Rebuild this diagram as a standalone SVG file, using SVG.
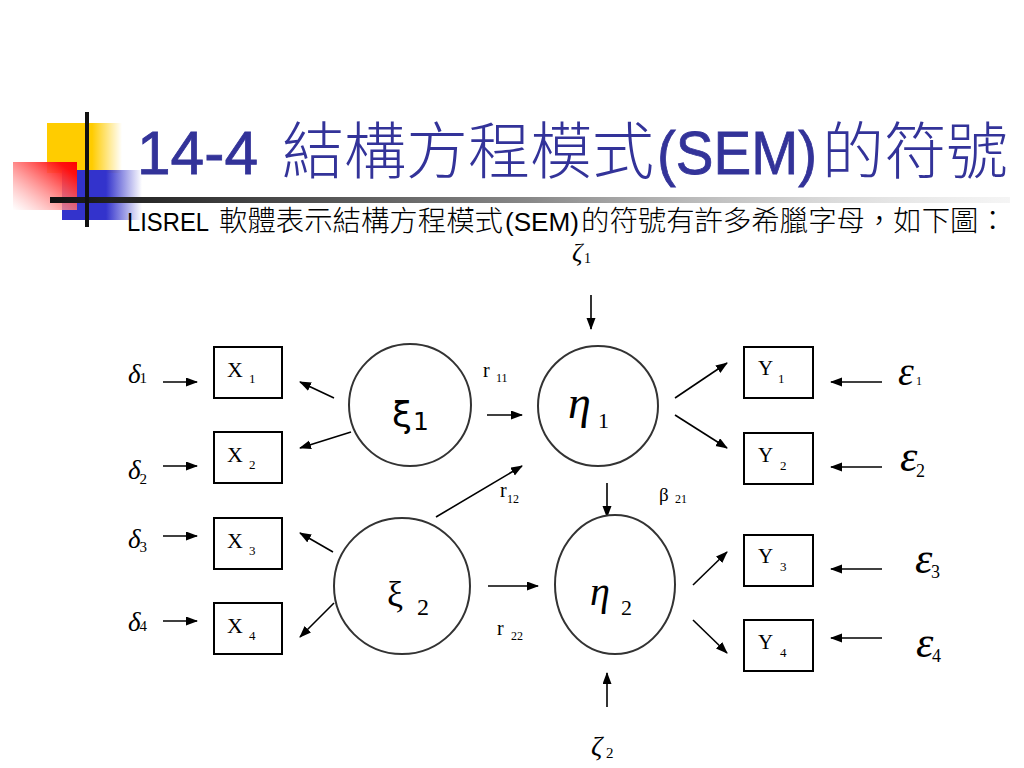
<svg xmlns="http://www.w3.org/2000/svg" width="1024" height="768" viewBox="0 0 1024 768">
<defs>
<linearGradient id="gy" x1="0" y1="0" x2="1" y2="0"><stop offset="0" stop-color="#FFCC00"/><stop offset="0.6" stop-color="#FFCC00"/><stop offset="1" stop-color="#FFCC00" stop-opacity="0"/></linearGradient>
<linearGradient id="gb" x1="0" y1="0" x2="1" y2="0"><stop offset="0" stop-color="#3333CC"/><stop offset="0.55" stop-color="#3333CC"/><stop offset="1" stop-color="#3333CC" stop-opacity="0"/></linearGradient>
<linearGradient id="gr" x1="0" y1="1" x2="1" y2="0"><stop offset="0" stop-color="#FFFFFF" stop-opacity="0.6"/><stop offset="0.85" stop-color="#FF1010"/><stop offset="1" stop-color="#FF0000"/></linearGradient>
<linearGradient id="gl" x1="0" y1="0" x2="1" y2="0"><stop offset="0" stop-color="#111111"/><stop offset="0.5" stop-color="#888888"/><stop offset="1" stop-color="#DDDDDD" stop-opacity="0.3"/></linearGradient>
<marker id="ah" markerWidth="12" markerHeight="10" refX="11" refY="4.5" orient="auto" markerUnits="userSpaceOnUse"><path d="M0,0 L12,4.5 L0,9 Z" fill="#000"/></marker>
</defs>
<style>
.ttl{font-family:"Liberation Sans","Noto Sans CJK TC",sans-serif;fill:#333399;font-size:62px}
.tl{stroke:#333399;stroke-width:0.8}
.sub{font-family:"Liberation Sans","Noto Sans CJK TC",sans-serif;fill:#000;font-size:26px}
.cj{font-family:"Noto Sans CJK TC",sans-serif;font-weight:300;stroke:none}
.box{fill:#fff;stroke:#000;stroke-width:2}
.lat{fill:#fff;stroke:#333;stroke-width:2}
.lb{font-family:"Liberation Serif",serif;fill:#000}
.it{font-style:italic}
.sb{font-size:13px}
#connectors line{stroke:#000;stroke-width:1.6;marker-end:url(#ah)}
</style>
<rect width="1024" height="768" fill="#fff"/>
<g id="decoration">
<rect x="47" y="123" width="75" height="50" fill="url(#gy)"/>
<rect x="62" y="170" width="80" height="50" fill="url(#gb)"/>
<rect x="13" y="162" width="64" height="48" fill="url(#gr)"/>
<rect x="50" y="197" width="960" height="6" fill="url(#gl)"/>
<rect x="85" y="112" width="4" height="115" fill="#111"/>
</g>
<g id="title">
<text class="ttl" y="174"><tspan class="tl" x="137" textLength="121" lengthAdjust="spacingAndGlyphs">14-4</tspan><tspan class="cj" x="282">結構方程模式</tspan><tspan class="tl" x="657" textLength="160" lengthAdjust="spacingAndGlyphs">(SEM)</tspan><tspan class="cj" x="822">的符號</tspan></text>
<text class="sub" y="231"><tspan x="127" textLength="82" lengthAdjust="spacingAndGlyphs">LISREL</tspan><tspan class="cj" x="219" font-size="28.4">軟體表示結構方程模式</tspan><tspan x="505" textLength="74" lengthAdjust="spacingAndGlyphs">(SEM)</tspan><tspan class="cj" x="581" font-size="28.4">的符號有許多希臘字母，如下圖：</tspan></text>
</g>
<g id="connectors">
<line x1="163" y1="382" x2="197" y2="382"/>
<line x1="163" y1="466" x2="197" y2="466"/>
<line x1="163" y1="536" x2="197" y2="536"/>
<line x1="163" y1="621" x2="197" y2="621"/>
<line x1="334" y1="398" x2="300" y2="382"/>
<line x1="351" y1="432" x2="300" y2="448"/>
<line x1="333" y1="552" x2="300" y2="533"/>
<line x1="334" y1="603" x2="300" y2="637"/>
<line x1="487" y1="415" x2="522" y2="415"/>
<line x1="436" y1="517" x2="522" y2="466"/>
<line x1="488" y1="586" x2="538" y2="586"/>
<line x1="591" y1="295" x2="591" y2="329"/>
<line x1="607" y1="483" x2="607" y2="517"/>
<line x1="607" y1="707" x2="607" y2="673"/>
<line x1="675" y1="398" x2="727" y2="363"/>
<line x1="675" y1="415" x2="727" y2="448"/>
<line x1="693" y1="585" x2="727" y2="552"/>
<line x1="693" y1="620" x2="727" y2="653"/>
<line x1="882" y1="382" x2="831" y2="382"/>
<line x1="882" y1="467" x2="831" y2="467"/>
<line x1="882" y1="569" x2="831" y2="569"/>
<line x1="882" y1="638" x2="831" y2="638"/>
</g>
<g id="delta1"><text class="lb" x="128" y="383" font-size="27"><tspan class="it">δ</tspan><tspan font-size="15" dx="-1">1</tspan></text></g>
<g id="delta2"><text class="lb" x="128" y="479" font-size="27"><tspan class="it">δ</tspan><tspan font-size="15" dx="-1" dy="5">2</tspan></text></g>
<g id="delta3"><text class="lb" x="128" y="548" font-size="27"><tspan class="it">δ</tspan><tspan font-size="15" dx="-1" dy="4">3</tspan></text></g>
<g id="delta4"><text class="lb" x="128" y="631" font-size="27"><tspan class="it">δ</tspan><tspan font-size="15" dx="-1">4</tspan></text></g>
<g id="X1"><rect class="box" x="214" y="347" width="68" height="51"/><text class="lb" x="227" y="377" font-size="22">X<tspan class="sb" x="249" y="383">1</tspan></text></g>
<g id="X2"><rect class="box" x="214" y="432" width="68" height="51"/><text class="lb" x="227" y="462" font-size="22">X<tspan class="sb" x="249" y="469">2</tspan></text></g>
<g id="X3"><rect class="box" x="214" y="518" width="68" height="51"/><text class="lb" x="227" y="548" font-size="22">X<tspan class="sb" x="249" y="555">3</tspan></text></g>
<g id="X4"><rect class="box" x="214" y="603" width="68" height="51"/><text class="lb" x="227" y="633" font-size="22">X<tspan class="sb" x="249" y="640">4</tspan></text></g>
<g id="xi1"><circle class="lat" cx="410" cy="405" r="61"/><text x="392" y="427" font-family="DejaVu Sans,sans-serif" font-size="36" fill="#000">ξ<tspan font-size="25" x="413" y="430">1</tspan></text></g>
<g id="xi2"><circle class="lat" cx="402" cy="586" r="68"/><text class="lb" x="387" y="606" font-size="36">ξ<tspan font-size="24" x="417" y="615">2</tspan></text></g>
<g id="eta1"><circle class="lat" cx="598" cy="406" r="60"/><text class="lb" x="568" y="418" font-size="46"><tspan class="it">η</tspan><tspan font-size="22" x="598" y="428">1</tspan></text></g>
<g id="eta2"><ellipse class="lat" cx="615" cy="584.5" rx="60" ry="69.5"/><text class="lb" x="590" y="605" font-size="40"><tspan class="it">η</tspan><tspan font-size="22" x="621" y="615">2</tspan></text></g>
<g id="zeta1"><text class="lb" x="572" y="261" font-size="26"><tspan class="it">ζ</tspan><tspan font-size="14" x="584" y="263">1</tspan></text></g>
<g id="zeta2"><text class="lb" x="591" y="755" font-size="28"><tspan class="it">ζ</tspan><tspan font-size="15" x="606" y="758">2</tspan></text></g>
<g id="r11"><text class="lb" x="483" y="377" font-size="20">r<tspan font-size="12" x="496" y="382">11</tspan></text></g>
<g id="r12"><text class="lb" x="500" y="497" font-size="20">r<tspan font-size="12" x="507" y="503">12</tspan></text></g>
<g id="r22"><text class="lb" x="497" y="635" font-size="20">r<tspan font-size="12" x="511" y="640">22</tspan></text></g>
<g id="beta21"><text class="lb" x="659" y="501" font-size="19">β<tspan font-size="12" x="675" y="503">21</tspan></text></g>
<g id="Y1"><rect class="box" x="744" y="347" width="69" height="51"/><text class="lb" x="758" y="375" font-size="21">Y<tspan class="sb" x="778" y="383">1</tspan></text></g>
<g id="Y2"><rect class="box" x="744" y="433" width="69" height="51"/><text class="lb" x="758" y="462" font-size="21">Y<tspan class="sb" x="780" y="470">2</tspan></text></g>
<g id="Y3"><rect class="box" x="744" y="535" width="69" height="51"/><text class="lb" x="758" y="563" font-size="21">Y<tspan class="sb" x="780" y="571">3</tspan></text></g>
<g id="Y4"><rect class="box" x="744" y="620" width="69" height="51"/><text class="lb" x="758" y="649" font-size="21">Y<tspan class="sb" x="780" y="657">4</tspan></text></g>
<g id="eps1"><text class="lb" x="898" y="385" font-size="40"><tspan class="it">ε</tspan><tspan font-size="12" x="916" y="385">1</tspan></text></g>
<g id="eps2"><text class="lb" x="900" y="471" font-size="44"><tspan class="it">ε</tspan><tspan font-size="18" x="916" y="477">2</tspan></text></g>
<g id="eps3"><text class="lb" x="915" y="573" font-size="44"><tspan class="it">ε</tspan><tspan font-size="18" x="931" y="578">3</tspan></text></g>
<g id="eps4"><text class="lb" x="916" y="657" font-size="44"><tspan class="it">ε</tspan><tspan font-size="18" x="932" y="662">4</tspan></text></g>
</svg>
